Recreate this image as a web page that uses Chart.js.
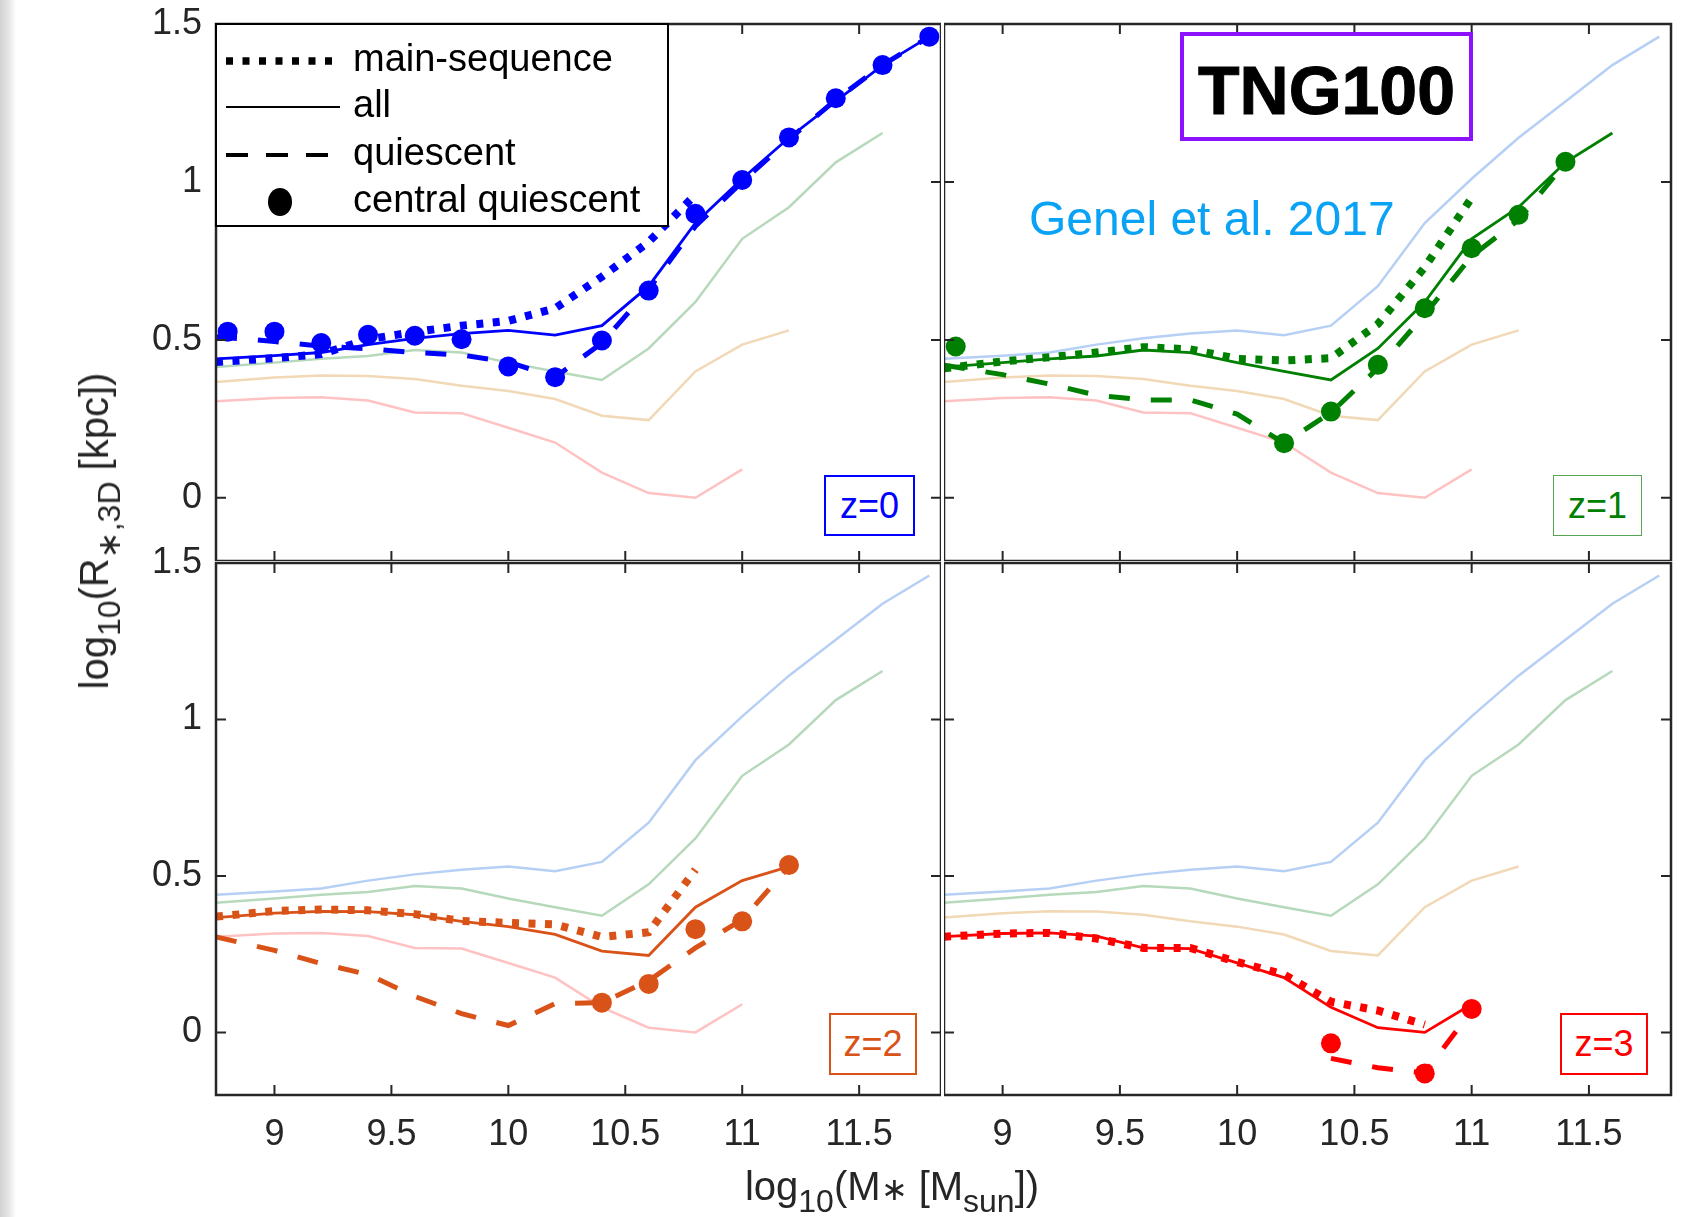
<!DOCTYPE html>
<html>
<head>
<meta charset="utf-8">
<script src="https://cdn.jsdelivr.net/npm/chart.js@4.4.1/dist/chart.umd.min.js"></script>
<style>
  html, body { margin: 0; padding: 0; background: #fff; }
  #fig { position: relative; width: 1690px; height: 1217px; overflow: hidden;
         font-family: "Liberation Sans", Arial, sans-serif; color: #262626; }
  #fig canvas { position: absolute; }
  .strip { position: absolute; left: 0; top: 0; width: 16px; height: 1217px;
           background: linear-gradient(to right, #d2d2d2, #e8e8e8 60%, #fff); }
  .zbox { position: absolute; box-sizing: border-box; border: 2px solid; font-size: 36px;
          display: flex; align-items: center; justify-content: center; background: #fff; }
  .tng { position: absolute; left: 1180px; top: 32px; width: 293px; height: 109px; box-sizing: border-box;
         border: 4px solid #8c12ff; display: flex; align-items: center; justify-content: center;
         font-weight: bold; font-size: 68px; color: #000; -webkit-text-stroke: 1px #000; padding-top: 6px; }
  .genel { position: absolute; left: 1029px; top: 219px; transform: translateY(-50%);
           font-size: 48px; color: #0aa2f5; white-space: nowrap; line-height: 1; }
  .ytitle { position: absolute; left: 94px; top: 531px; transform: translate(-50%, -50%) rotate(-90deg);
            font-size: 40px; white-space: nowrap; line-height: 1; color: #262626; }
  .xtitle { position: absolute; left: 892px; top: 1186px; transform: translate(-50%, -50%);
            font-size: 40px; white-space: nowrap; line-height: 1; color: #262626; }
  .sb { font-size: 0.8em; position: relative; top: 0.38em; }
</style>
</head>
<body>
<div id="fig">
  <div class="strip"></div>
  <canvas id="p0" width="941" height="561" style="left:0px;top:0px"></canvas>
  <canvas id="p1" width="746" height="561" style="left:944px;top:0px"></canvas>
  <canvas id="p2" width="941" height="684" style="left:0px;top:533px"></canvas>
  <canvas id="p3" width="746" height="684" style="left:944px;top:533px"></canvas>

  <div class="tng">TNG100</div>
  <div class="genel">Genel et al. 2017</div>
  <div class="zbox" style="left:824px;top:475px;width:91px;height:61px;color:#0000ff;border-color:#0000ff">z=0</div>
  <div class="zbox" style="left:1553px;top:475px;width:89px;height:61px;color:#008000;border-color:#55a555;border-width:1.5px">z=1</div>
  <div class="zbox" style="left:829px;top:1013px;width:88px;height:62px;color:#d95319;border-color:#d95319">z=2</div>
  <div class="zbox" style="left:1560px;top:1013px;width:88px;height:62px;color:#ff0000;border-color:#ff0000">z=3</div>

  <div class="ytitle">log<span class="sb">10</span>(R<span class="sb">&lowast;,3D</span> [kpc])</div>
  <div class="xtitle">log<span class="sb">10</span>(M<span style="font-size:0.8em">&lowast;</span> [M<span class="sb">sun</span>])</div>
</div>

<script>
// stellar mass bins (log10 Msun); lines start at the axis edge, dots at bin centres
var logMass = [8.75, 9.0, 9.2, 9.4, 9.6, 9.8, 10.0, 10.2, 10.4, 10.6, 10.8, 11.0, 11.2, 11.4, 11.6, 11.8];
var dotMass = [8.8, 9.0, 9.2, 9.4, 9.6, 9.8, 10.0, 10.2, 10.4, 10.6, 10.8, 11.0, 11.2, 11.4, 11.6, 11.8];

// z=0
var allZ0 = [0.44, 0.45, 0.46, 0.485, 0.505, 0.52, 0.53, 0.515, 0.545, 0.67, 0.87, 1.01, 1.14, 1.255, 1.37, 1.46];
var msZ0  = [0.43, 0.442, 0.455, 0.502, 0.525, 0.545, 0.56, 0.60, 0.70, 0.81, 0.96, null, null, null, null, null];
var qZ0   = [0.51, 0.495, 0.48, 0.472, 0.46, 0.452, 0.43, 0.382, 0.49, 0.66, 0.86, 1.0, 1.135, 1.26, 1.37, 1.46];
var cqZ0  = [0.526, 0.526, 0.49, 0.516, 0.513, 0.502, 0.416, 0.382, 0.498, 0.656, 0.899, 1.006, 1.141, 1.265, 1.37, 1.46];

// z=1
var allZ1 = [0.414, 0.428, 0.44, 0.449, 0.468, 0.46, 0.428, 0.40, 0.373, 0.473, 0.62, 0.82, 0.92, 1.062, 1.155, null];
var msZ1  = [0.41, 0.432, 0.445, 0.46, 0.477, 0.47, 0.44, 0.435, 0.442, 0.55, 0.73, 0.95, null, null, null, null];
var qZ1   = [0.42, 0.39, 0.36, 0.325, 0.31, 0.31, 0.265, 0.173, 0.27, 0.41, 0.58, 0.765, 0.88, 1.06, null, null];
var cqZ1  = [0.479, null, null, null, null, null, null, 0.173, 0.273, 0.421, 0.60, 0.79, 0.896, 1.064, null, null];

// z=2
var allZ2 = [0.367, 0.381, 0.387, 0.386, 0.376, 0.355, 0.338, 0.313, 0.26, 0.246, 0.40, 0.485, 0.53, null, null, null];
var msZ2  = [0.37, 0.388, 0.393, 0.39, 0.378, 0.356, 0.35, 0.345, 0.305, 0.32, 0.52, null, null, null, null, null];
var qZ2   = [0.305, 0.262, 0.22, 0.185, 0.115, 0.06, 0.022, 0.092, 0.095, 0.165, 0.27, 0.36, 0.53, null, null, null];
var cqZ2  = [null, null, null, null, null, null, null, null, 0.095, 0.155, 0.33, 0.355, 0.535, null, null, null];

// z=3
var allZ3 = [0.306, 0.316, 0.318, 0.308, 0.27, 0.268, 0.222, 0.175, 0.08, 0.015, 0.0, 0.09, null, null, null, null];
var msZ3  = [0.306, 0.316, 0.318, 0.30, 0.27, 0.27, 0.225, 0.185, 0.098, 0.07, 0.025, null, null, null, null, null];
var qZ3   = [null, null, null, null, null, null, null, null, -0.083, -0.113, -0.13, 0.07, null, null, null, null];
var cqZ3  = [null, null, null, null, null, null, null, null, -0.035, null, -0.131, 0.075, null, null, null, null];

var xTicks = [9, 9.5, 10, 10.5, 11, 11.5];
var yTicks = [0, 0.5, 1, 1.5];
var legendLabels = ['main-sequence', 'all', 'quiescent', 'central quiescent'];

var zColors = ['#0000ff', '#008000', '#d95319', '#ff0000'];
var zFaint = ['#b6cff5', '#b7d9bb', '#f1d8b6', '#ffc2c2'];

var allSeries = [allZ0, allZ1, allZ2, allZ3];
var msSeries = [msZ0, msZ1, msZ2, msZ3];
var qSeries = [qZ0, qZ1, qZ2, qZ3];
var cqSeries = [cqZ0, cqZ1, cqZ2, cqZ3];

Chart.defaults.font.family = '"Liberation Sans", Arial, sans-serif';

function pts(xs, ys) {
    var out = [];
    for (var i = 0; i < xs.length; i++) {
        if (ys[i] !== null) out.push({x: xs[i], y: ys[i]});
    }
    return out;
}

// box frame with inward ticks, matlab style
var frame = {
    id: 'frame',
    afterDatasetsDraw: function (chart) {
        var a = chart.chartArea, ctx = chart.ctx;
        var xs = chart.scales.x, ys = chart.scales.y;
        ctx.save();
        ctx.strokeStyle = '#262626';
        ctx.lineWidth = 2;
        ctx.beginPath();
        xTicks.forEach(function (v) {
            var px = xs.getPixelForValue(v);
            ctx.moveTo(px, a.top); ctx.lineTo(px, a.top + 10);
            ctx.moveTo(px, a.bottom); ctx.lineTo(px, a.bottom - 10);
        });
        yTicks.forEach(function (v) {
            var py = ys.getPixelForValue(v);
            ctx.moveTo(a.left, py); ctx.lineTo(a.left + 10, py);
            ctx.moveTo(a.right, py); ctx.lineTo(a.right - 10, py);
        });
        ctx.stroke();
        ctx.lineWidth = 2.5;
        ctx.strokeRect(a.left, a.top, a.right - a.left, a.bottom - a.top);
        ctx.restore();
    }
};

// legend in the top-left panel
var legendBox = {
    id: 'legendBox',
    afterDatasetsDraw: function (chart) {
        var a = chart.chartArea, ctx = chart.ctx;
        var x0 = a.left, y0 = a.top;
        ctx.save();
        ctx.fillStyle = '#fff';
        ctx.fillRect(x0, y0, 452, 202);
        ctx.strokeStyle = '#000';
        ctx.lineWidth = 2;
        ctx.strokeRect(x0, y0, 452, 202);

        var rows = [37, 83, 131, 178];
        ctx.lineCap = 'butt';
        // dotted
        ctx.setLineDash([7, 9.5]);
        ctx.lineWidth = 7.5;
        ctx.beginPath(); ctx.moveTo(x0 + 10, y0 + rows[0]); ctx.lineTo(x0 + 122, y0 + rows[0]); ctx.stroke();
        // solid
        ctx.setLineDash([]);
        ctx.lineWidth = 2;
        ctx.beginPath(); ctx.moveTo(x0 + 10, y0 + rows[1]); ctx.lineTo(x0 + 124, y0 + rows[1]); ctx.stroke();
        // dashed
        ctx.setLineDash([22, 18]);
        ctx.lineWidth = 4;
        ctx.beginPath(); ctx.moveTo(x0 + 10, y0 + rows[2]); ctx.lineTo(x0 + 124, y0 + rows[2]); ctx.stroke();
        ctx.setLineDash([]);
        // dot
        ctx.fillStyle = '#000';
        ctx.beginPath(); ctx.ellipse(x0 + 64, y0 + rows[3], 12, 14, 0, 0, Math.PI * 2); ctx.fill();

        ctx.font = '38px "Liberation Sans", Arial, sans-serif';
        ctx.textBaseline = 'middle';
        ctx.textAlign = 'left';
        legendLabels.forEach(function (t, i) {
            ctx.fillText(t, x0 + 137, y0 + rows[i]);
        });
        ctx.restore();
    }
};

function makeDatasets(z) {
    var c = zColors[z];
    var sets = [];
    for (var k = 0; k < 4; k++) {
        if (k === z) continue;
        sets.push({data: pts(logMass, allSeries[k]), borderColor: zFaint[k], borderWidth: 2.5,
                   pointRadius: 0, order: 10});
    }
    sets.push({data: pts(logMass, allSeries[z]), borderColor: c, borderWidth: 2.8, pointRadius: 0, order: 4});
    sets.push({data: pts(logMass, msSeries[z]), borderColor: c, borderWidth: 8, borderDash: [7, 9.5],
               borderCapStyle: 'butt', pointRadius: 0, order: 3});
    sets.push({data: pts(logMass, qSeries[z]), borderColor: c, borderWidth: 5, borderDash: [21, 21],
               borderCapStyle: 'butt', pointRadius: 0, order: 2});
    sets.push({data: pts(dotMass, cqSeries[z]), showLine: false, borderColor: c, pointRadius: 10,
               pointBackgroundColor: c, pointBorderColor: c, pointBorderWidth: 0, order: 1});
    return sets;
}

var panels = [
    {id: 'p0', z: 0, left: true, bottom: false, pad: {top: 24, right: 0, left: 0, bottom: 0}},
    {id: 'p1', z: 1, left: false, bottom: false, pad: {top: 24, right: 19, left: 0, bottom: 0}},
    {id: 'p2', z: 2, left: true, bottom: true, pad: {top: 30, right: 0, left: 0, bottom: 0}},
    {id: 'p3', z: 3, left: false, bottom: true, pad: {top: 30, right: 19, left: 0, bottom: 0}}
];

var tickFont = {size: 36, family: '"Liberation Sans", Arial, sans-serif'};

panels.forEach(function (p) {
    var xScale = {
        type: 'linear', min: 8.75, max: 11.85, display: p.bottom,
        grid: {display: false, drawTicks: false},
        border: {display: false},
        afterBuildTicks: function (s) { s.ticks = xTicks.map(function (v) { return {value: v}; }); },
        ticks: {padding: 18, color: '#262626', font: tickFont, maxRotation: 0,
                callback: function (v) { return String(v); }}
    };
    if (p.bottom) {
        xScale.afterFit = function (s) { s.height = 122; s.paddingLeft = 0; s.paddingRight = 0; };
    }
    var yScale = {
        type: 'linear', min: -0.2, max: 1.5, display: p.left,
        grid: {display: false, drawTicks: false},
        border: {display: false},
        afterBuildTicks: function (s) { s.ticks = yTicks.map(function (v) { return {value: v}; }); },
        ticks: {padding: 14, color: '#262626', font: tickFont,
                callback: function (v) { return String(v); }}
    };
    if (p.left) {
        yScale.afterFit = function (s) { s.width = 216; s.paddingTop = 0; s.paddingBottom = 0; };
    }

    new Chart(document.getElementById(p.id), {
        type: 'line',
        data: {datasets: makeDatasets(p.z)},
        options: {
            responsive: false,
            animation: false,
            events: [],
            devicePixelRatio: 1,
            layout: {padding: p.pad, autoPadding: false},
            plugins: {legend: {display: false}, tooltip: {enabled: false}},
            scales: {x: xScale, y: yScale}
        },
        plugins: p.z === 0 ? [frame, legendBox] : [frame]
    });
});
</script>
</body>
</html>
